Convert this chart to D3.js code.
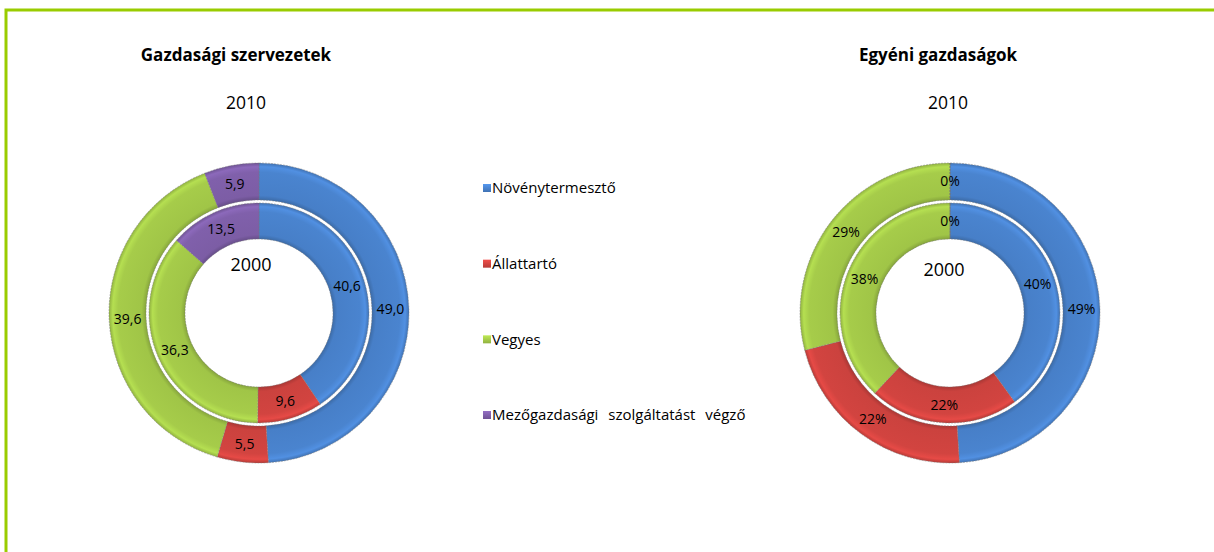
<!DOCTYPE html>
<html>
<head>
<meta charset="utf-8">
<script src="https://cdn.jsdelivr.net/npm/d3@7"></script>
<style>
  body { margin: 0; background: #fff; }
  text { font-family: "Open Sans", Lato, sans-serif; fill: #000; }
</style>
</head>
<body>
<script>
// kategóriák és adatok
var categories = ["Növénytermesztő", "Állattartó", "Vegyes", "Mezőgazdasági szolgáltatást végző"];
var szervezetek2010 = [49.0, 5.5, 39.6, 5.9];
var szervezetek2000 = [40.6, 9.6, 36.3, 13.5];
var egyeni2010 = [49, 22, 29, 0];
var egyeni2000 = [40, 22, 38, 0];
var colors = ["#4a84cf", "#d24440", "#a6cc4a", "#8060ab"];

var width = 1214, height = 552;

var svg = d3.select("body").append("svg")
    .attr("width", width)
    .attr("height", height);

// zöld keret (felső és bal oldal)
svg.append("path")
    .attr("d", "M6,552 L6,10 L1214,10")
    .attr("fill", "none")
    .attr("stroke", "#99cc00")
    .attr("stroke-width", 3);

var defs = svg.append("defs");

// színátmenetek a 3D hatáshoz
function ringGradient(id, color, r0, r1) {
    var c = d3.color(color);
    var g = defs.append("radialGradient")
        .attr("id", id)
        .attr("gradientUnits", "userSpaceOnUse")
        .attr("cx", 0).attr("cy", 0).attr("r", r1);
    var f = r0 / r1;
    g.append("stop").attr("offset", f).attr("stop-color", c.darker(0.6));
    g.append("stop").attr("offset", f + (1 - f) * 0.12).attr("stop-color", c.darker(0.1));
    g.append("stop").attr("offset", f + (1 - f) * 0.75).attr("stop-color", c);
    g.append("stop").attr("offset", f + (1 - f) * 0.9).attr("stop-color", c.brighter(0.25));
    g.append("stop").attr("offset", 1).attr("stop-color", c.darker(0.4));
}

var pie = d3.pie().sort(null).value(function (d) { return d; });

var rings = [
    {key: "in", r0: 74, r1: 110},
    {key: "out", r0: 113, r1: 150}
];
rings.forEach(function (r) {
    colors.forEach(function (c, i) { ringGradient("g" + r.key + i, c, r.r0, r.r1); });
});

var fmtComma = function (v) { return d3.format(".1f")(v).replace(".", ","); };
var fmtPct = function (v) { return d3.format(".0f")(v) + "%"; };

function donut(cx, cy, inner, outer, fmt, title, titleX, cdx, cdy) {
    var g = svg.append("g").attr("transform", "translate(" + cx + "," + cy + ")");
    [[inner, rings[0]], [outer, rings[1]]].forEach(function (pair) {
        var data = pair[0], r = pair[1];
        var arc = d3.arc().innerRadius(r.r0).outerRadius(r.r1);
        var labelArc = d3.arc().innerRadius((r.r0 + r.r1) / 2).outerRadius((r.r0 + r.r1) / 2);
        var arcs = pie(data);
        g.selectAll(null).data(arcs).enter().append("path")
            .attr("d", arc)
            .attr("fill", function (d, i) { return "url(#g" + r.key + i + ")"; })
            .attr("stroke", "rgba(120,120,120,0.6)")
            .attr("stroke-width", 0.8)
            .attr("stroke-dasharray", "2,1");
        g.selectAll(null).data(arcs).enter().append("text")
            .attr("transform", function (d) { return "translate(" + labelArc.centroid(d) + ")"; })
            .attr("text-anchor", "middle")
            .attr("dy", "0.35em")
            .style("font-size", "14px")
            .text(function (d) { return fmt(d.data); });
    });
    g.append("text")
        .attr("x", cdx).attr("y", cdy)
        .attr("text-anchor", "middle")
        .attr("dy", "0.35em")
        .style("font-size", "18px")
        .text("2000");
    svg.append("text")
        .attr("x", titleX).attr("y", 61)
        .attr("text-anchor", "middle")
        .style("font-size", "17px")
        .style("font-weight", "bold")
        .text(title);
    svg.append("text")
        .attr("x", titleX + 10).attr("y", 109)
        .attr("text-anchor", "middle")
        .style("font-size", "17.5px")
        .text("2010");
}

donut(259, 313, szervezetek2000, szervezetek2010, fmtComma, "Gazdasági szervezetek", 236, -8, -48);
donut(950, 313, egyeni2000, egyeni2010, fmtPct, "Egyéni gazdaságok", 938, -6, -43);

// jelmagyarázat
var legendY = d3.scalePoint().domain(categories).range([188, 415]);
var legend = svg.append("g");
categories.forEach(function (c, i) {
    var y = legendY(c);
    var lg = defs.append("linearGradient").attr("id", "lg" + i)
        .attr("x1", 0).attr("y1", 0).attr("x2", 0).attr("y2", 1);
    lg.append("stop").attr("offset", 0).attr("stop-color", d3.color(colors[i]).brighter(0.4));
    lg.append("stop").attr("offset", 1).attr("stop-color", d3.color(colors[i]).darker(0.4));
    legend.append("rect")
        .attr("x", 483).attr("y", y - 4)
        .attr("width", 8).attr("height", 8)
        .attr("fill", "url(#lg" + i + ")");
    legend.append("text")
        .attr("x", 492).attr("y", y)
        .attr("dy", "0.35em")
        .style("font-size", "15px")
        .style("word-spacing", i === 3 ? "6px" : "0px")
        .text(c);
});
</script>
</body>
</html>
